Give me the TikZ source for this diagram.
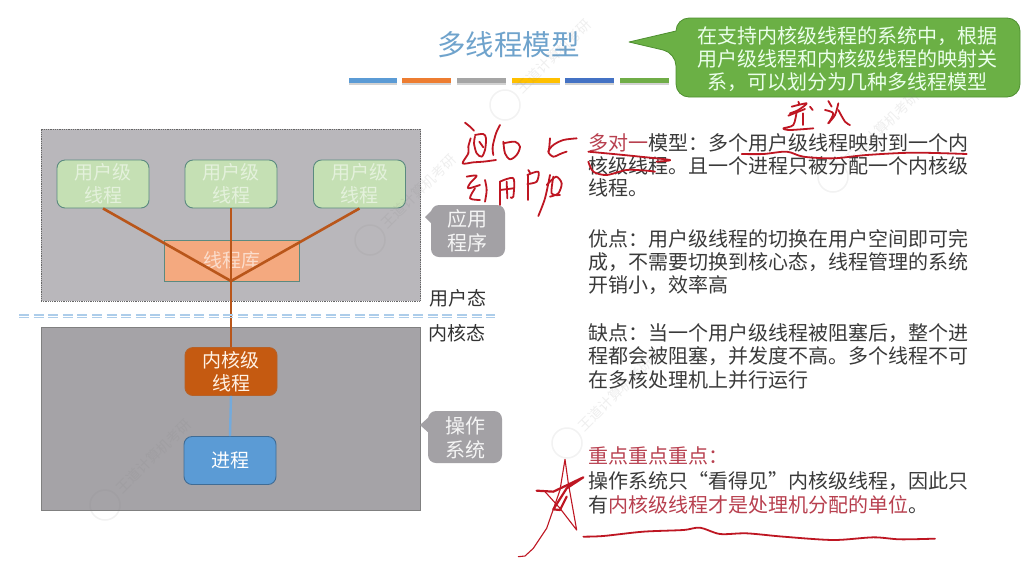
\documentclass[tikz,border=0pt]{standalone}
\usepackage{fontspec}
\setmainfont{Noto Sans CJK SC}
\definecolor{upperbg}{HTML}{B9B7BB}
\definecolor{lowerbg}{HTML}{A5A3A7}
\definecolor{greenfill}{HTML}{C5E0B4}
\definecolor{greenedge}{HTML}{5B8A80}
\definecolor{greentxt}{HTML}{E4F1DC}
\definecolor{libfill}{HTML}{F4A97F}
\definecolor{wire}{HTML}{B9561A}
\definecolor{kernfill}{HTML}{C55A11}
\definecolor{procfill}{HTML}{5B9BD5}
\definecolor{calloutgray}{HTML}{A3A1A5}
\definecolor{titleblue}{HTML}{6FA3CC}
\definecolor{calloutgreen}{HTML}{6BB045}
\definecolor{calloutedge}{HTML}{4E8F30}
\definecolor{bodytxt}{HTML}{3A3A3A}
\definecolor{redtxt}{HTML}{B8404F}
\definecolor{ink}{HTML}{BE1622}
\newcommand{\fs}[1]{\fontsize{#1}{#1}\selectfont}
\newcommand{\fc}{\char"FF0C\relax}
\newcommand{\fk}{\char"FF1A\relax}
\newcommand{\wmark}[2]{%
  \draw[wmline] (#1,#2) circle[radius=15];
  \node[wmtext] at (#1+14,#2-14) {王道计算机考研};}
\begin{document}
\begin{tikzpicture}[x=1pt,y=-1pt,
  thread/.style={draw=greenedge,line width=0.9pt,fill=greenfill,rounded corners=8pt,minimum width=92pt,minimum height=48pt,inner sep=0pt,align=center,text=greentxt,font=\fontsize{19}{23}\selectfont},
  kthread/.style={thread,draw=kernfill!80!gray,fill=kernfill,text=white!90!orange},
  pthread/.style={thread,draw=procfill!70!black,fill=procfill,text=white},
  wire/.style={draw=wire,line width=2.6pt},
  gcalltxt/.style={align=center,text=white!92!gray,inner sep=0pt,font=\fontsize{20}{24}\selectfont},
  lbl/.style={anchor=west,inner sep=0pt,text=black!80,font=\fs{19}},
  body/.style={anchor=west,inner sep=0pt,text=bodytxt,font=\fs{20}},
  hand/.style={draw=ink,line width=1.8pt,line cap=round,line join=round},
  wmline/.style={draw=gray,opacity=.10,line width=1.5pt},
  wmtext/.style={text=gray,opacity=.13,rotate=45,anchor=west,inner sep=0pt,font=\fs{14}}]
\useasboundingbox (0,0) rectangle (1024,566);
\fill[white] (0,0) rectangle (1024,566);

% title and bars
\node[inner sep=0pt,text=titleblue,font=\fs{28.5}] (title) at (508.5,45) {多线程模型};
\foreach \a/\b/\c in {349/397/5B9BD5,402/451/ED7D31,457/506/A5A5A5,512/560/FFC000,565/614/4472C4,620/669/70AD47}{
  \definecolor{barc}{HTML}{\c}
  \fill[gray!35] (\a,80) rectangle (\b,85);
  \fill[barc] (\a,78) rectangle (\b,83);
}
% green callout
\draw[fill=calloutgreen,draw=calloutedge,line width=0.8pt,line join=round]
  (629,42) -- (676,31) [rounded corners=13pt] -- (676,18) -- (1020,18) -- (1020,97) -- (676,97) -- (676,53) [sharp corners] -- cycle;
\node[align=center,text=white!92!green,inner sep=0pt,font=\fontsize{20}{23.2}\selectfont] (co) at (847,59) {在支持内核级线程的系统中\fc 根据\\用户级线程和内核级线程的映射关\\系\fc 可以划分为几种多线程模型};

% panels
\node[draw=black!60,densely dotted,line width=0.8pt,fill=upperbg,minimum width=379.5pt,minimum height=172pt,inner sep=0pt] (upper) at (230.75,215) {};
\node[draw=black!50,line width=0.8pt,fill=lowerbg,minimum width=379.5pt,minimum height=183pt,inner sep=0pt] (lower) at (230.75,418.5) {};

% nodes
\node[draw=greenedge,line width=0.9pt,fill=libfill,minimum width=135pt,minimum height=41.5pt,inner sep=0pt,text=libfill!40!white,font=\fs{19}] (lib) at (231.5,260.7) {线程库};
\node[thread] (u1) at (103,184) {用户级\\线程};
\node[thread] (u2) at (231,184) {用户级\\线程};
\node[thread] (u3) at (359.5,184) {用户级\\线程};
\node[kthread] (kt) at (231,371.5) {内核级\\线程};
\node[pthread] (pr) at (230,460.5) {进程};
\coordinate (j) at (231,281);

% connectors
\draw[wire] (u1.south) -- (j);
\draw[wire] (u3.south) -- (j);
\draw[wire] (u2.south) -- (j);
\draw[wire] (j) -- (kt.north);
\draw[draw=procfill!85!white,line width=2.4pt] (kt.south) -- (pr.north);

% dashed boundary
\coordinate (bl) at (19,317.5);
\coordinate (br) at (495,317.5);
\draw[draw=procfill!50!white,line width=1.3pt,dash pattern=on 10pt off 4.6pt] (bl) -- (br);
\draw[draw=procfill!50!white,line width=1.3pt,dash pattern=on 10pt off 4.6pt] ([yshift=2.6pt]bl) -- ([yshift=2.6pt]br);

% side callouts
\fill[calloutgray,rounded corners=8pt] (431,205) rectangle (505,257);
\fill[calloutgray] (425,217) -- (433,209) -- (433,225) -- cycle;
\node[gcalltxt] (app) at (467,231) {应用\\程序};
\fill[calloutgray,rounded corners=8pt] (428,411) rectangle (502,463);
\fill[calloutgray] (420,425) -- (430,416) -- (430,434) -- cycle;
\node[gcalltxt] (os) at (465,438) {操作\\系统};
\node[lbl] (ul) at (429.5,298) {用户态};
\node[lbl] (kl) at (428.5,333.5) {内核态};

% right text
\node[body] (t1) at (588,143) {\textcolor{redtxt}{多对一}模型\fk 多个用户级线程映射到一个内};
\node[body] (t2) at (588,166) {核级线程。且一个进程只被分配一个内核级};
\node[body] (t3) at (588,188) {线程。};
\node[body] (t4) at (588,238.5) {优点\fk 用户级线程的切换在用户空间即可完};
\node[body] (t5) at (588,262) {成\fc 不需要切换到核心态\fc 线程管理的系统};
\node[body] (t6) at (588,285) {开销小\fc 效率高};
\node[body] (t7) at (588,333) {缺点\fk 当一个用户级线程被阻塞后\fc 整个进};
\node[body] (t8) at (588,356.5) {程都会被阻塞\fc 并发度不高。多个线程不可};
\node[body] (t9) at (588,380) {在多核处理机上并行运行};
\node[body,text=redtxt] (t10) at (588,456) {重点重点重点\fk};
\node[body] (t11) at (588,481) {操作系统只“看得见”内核级线程\fc 因此只};
\node[body] (t12) at (588,504.5) {有\textcolor{redtxt}{内核级线程才是处理机分配的单位}。};

% handwriting near the top left of the text
\begin{scope}[shift={(450,110)},x=0.3333pt,y=-0.3333pt]
  \draw[hand] plot[smooth] coordinates {(45,38)(60,50)(72,62)};
  \draw[hand] plot[smooth] coordinates {(75,75)(100,72)(108,85)(105,120)(95,140)(80,130)(72,100)(75,80)};
  \draw[hand] plot[smooth] coordinates {(62,85)(55,110)(55,130)(38,160)(70,157)(100,155)(138,150)};
  \draw[hand] plot[smooth] coordinates {(88,95)(100,112)};
  \draw[hand] plot[smooth] coordinates {(150,45)(138,70)(128,110)(130,135)};
  \draw[hand] plot[smooth] coordinates {(160,95)(165,130)(180,148)(200,135)(210,110)(195,95)(160,100)};
  \draw[hand] plot[smooth] coordinates {(380,85)(340,90)(310,105)(295,125)(310,140)(335,130)(350,125)};
  \draw[hand] plot[smooth] coordinates {(300,85)(298,110)(296,125)};
  \draw[hand] plot[smooth] coordinates {(50,200)(80,197)(60,220)(55,235)(90,225)};
  \draw[hand] plot[smooth] coordinates {(75,235)(60,265)(90,270)};
  \draw[hand] plot[smooth] coordinates {(105,210)(110,240)(105,275)};
  \draw[hand] plot[smooth] coordinates {(150,215)(150,285)};
  \draw[hand] plot[smooth] coordinates {(150,215)(190,205)(190,260)(182,262)};
  \draw[hand] (150,240) -- (190,235);
  \draw[hand] (170,215) -- (172,265);
  \draw[hand] (235,180) -- (240,188);
  \draw[hand] plot[smooth] coordinates {(232,195)(265,185)(260,215)(232,222)};
  \draw[hand] (235,195) -- (235,270);
  \draw[hand] plot[smooth] coordinates {(300,195)(285,265)(265,318)};
  \draw[hand] plot[smooth] coordinates {(310,200)(305,250)(330,255)};
  \draw[hand] plot[smooth] coordinates {(290,225)(318,200)(335,220)(325,250)(300,260)};
\end{scope}

% handwriting above the first line
\begin{scope}[shift={(770,95)},x=0.3333pt,y=-0.3333pt]
  \draw[hand] (85,20) -- (88,28);
  \draw[hand] plot[smooth] coordinates {(65,35)(110,25)(85,45)(60,55)};
  \draw[hand] (55,62) -- (105,42);
  \draw[hand] plot[smooth] coordinates {(80,50)(70,90)(40,100)(60,105)(130,100)};
  \draw[hand] (100,55) -- (100,90);
  \draw[hand] (120,35) -- (128,45);
  \draw[hand] (175,18) -- (185,35);
  \draw[hand] plot[smooth] coordinates {(165,45)(190,55)(175,85)};
  \draw[hand] plot[smooth] coordinates {(205,25)(195,60)(175,85)};
  \draw[hand] plot[smooth] coordinates {(205,45)(225,80)(240,90)};
\end{scope}

% underlines
\begin{scope}[shift={(580,130)},x=0.3333pt,y=-0.3333pt]
  \draw[hand] plot[smooth] coordinates {(25,65)(100,72)(180,80)(270,90)(230,95)};
  \draw[hand] plot[smooth] coordinates {(25,95)(40,125)(80,135)(140,120)(200,122)(225,125)};
  \draw[hand] plot[smooth] coordinates {(485,72)(550,72)(620,65)(670,80)(760,85)(860,75)(1000,68)(1160,72)};
\end{scope}

% star
\begin{scope}[shift={(510,450)},x=0.3333pt,y=-0.3333pt]
  \draw[hand,line width=1.1pt] plot coordinates {(25,320)(45,318)(70,295)(110,235)(150,120)(165,28)(175,100)(200,240)(150,175)(105,125)};
  \draw[hand,line width=2.2pt] plot coordinates {(80,122)(130,125)(220,82)(170,115)(130,178)(150,180)(170,140)};
\end{scope}

% long underline
\begin{scope}[shift={(500,430)},x=0.3333pt,y=-0.3333pt]
  \draw[hand] plot[smooth] coordinates {(250,320)(310,318)(430,305)(550,300)(600,293)(660,312)(740,310)(850,320)(1000,330)(1120,322)(1200,328)(1305,326)};
\end{scope}

% watermarks
\wmark{505}{105}
\wmark{370}{240}
\wmark{105}{505}
\wmark{567}{443}
\wmark{833}{177}
\end{tikzpicture}
\end{document}
